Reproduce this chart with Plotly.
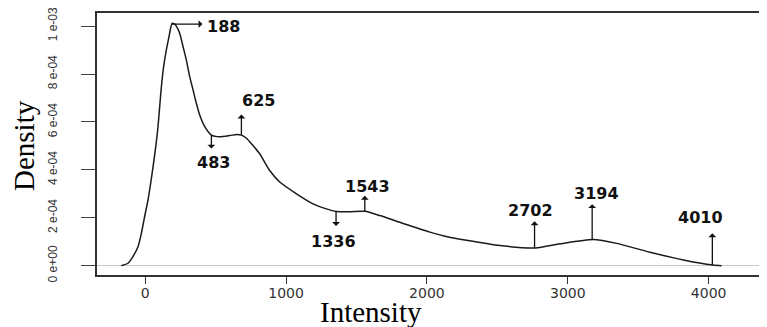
import numpy as np
import plotly.graph_objects as go

# Density curve
intensity = [-170, -122, -87, -51, -27, -4, 20, 39, 56, 75, 91, 103, 115, 131, 150, 169, 182,
             192, 205, 221, 245, 269, 292, 316, 340, 363, 387, 423, 470, 529, 600, 650, 683,
             719, 760, 813, 884, 955, 1074, 1192, 1280, 1358, 1450, 1560, 1666, 1831, 2021,
             2150, 2281, 2518, 2771, 2944, 3180, 3347, 3583, 3820, 4030, 4092]
density = [0, 1.0e-5, 3.8e-5, 7.9e-5, 1.35e-4, 2.05e-4, 2.74e-4, 3.44e-4, 4.13e-4, 4.97e-4,
           5.80e-4, 6.64e-4, 7.47e-4, 8.31e-4, 9.0e-4, 9.56e-4, 9.95e-4, 1.012e-3, 1.01e-3,
           1.0e-3, 9.7e-4, 9.14e-4, 8.59e-4, 7.89e-4, 7.33e-4, 6.78e-4, 6.29e-4, 5.8e-4,
           5.45e-4, 5.38e-4, 5.43e-4, 5.48e-4, 5.45e-4, 5.32e-4, 5.05e-4, 4.67e-4, 3.97e-4,
           3.49e-4, 3.0e-4, 2.58e-4, 2.38e-4, 2.26e-4, 2.25e-4, 2.27e-4, 2.09e-4, 1.76e-4,
           1.40e-4, 1.2e-4, 1.06e-4, 8.4e-5, 7.4e-5, 9.1e-5, 1.09e-4, 9.3e-5, 5.6e-5, 2.4e-5,
           3e-6, 0]

# Marked extrema: label text and where the arrow sits on the curve
peak_labels = ["188", "483", "625", "1336", "1543", "2702", "3194", "4010"]
peak_x = [190, 470, 683, 1355, 1559, 2764, 3173, 4026]

# Axis ticks
x_ticks = [0, 1000, 2000, 3000, 4000]
y_ticks = [0, 2e-4, 4e-4, 6e-4, 8e-4, 1e-3]
y_tick_text = ["0 e+00", "2 e-04", "4 e-04", "6 e-04", "8 e-04", "1 e-03"]

# Arrow style per label: (arrow dx px, arrow dy px, label dx px, label dy px, anchor)
arrow_style = [
    (32, 0, 33, 2, "left"),
    (0, 15, 2, 27, "center"),
    (0, -22, 17, -35, "center"),
    (0, 16, -3, 30, "center"),
    (0, -17, 3, -25, "center"),
    (0, -28, -4, -37, "center"),
    (0, -37, 4, -46, "center"),
    (0, -33, -12, -47, "center"),
]

fig = go.Figure()
fig.add_trace(go.Scatter(
    x=intensity, y=density, mode="lines",
    line=dict(color="#1a1a1a", width=1.5, shape="spline", smoothing=0.6),
    hoverinfo="skip", showlegend=False,
))

curve_y = np.interp(peak_x, intensity, density)
for lab, px, cy, (adx, ady, ldx, ldy, anc) in zip(peak_labels, peak_x, curve_y, arrow_style):
    fig.add_annotation(
        x=px, y=float(cy), xref="x", yref="y", text="",
        showarrow=True, ax=adx, ay=ady, arrowside="start",
        arrowhead=2, arrowsize=0.9, arrowwidth=1.3, arrowcolor="#111",
        standoff=0, startstandoff=0,
    )
    fig.add_annotation(
        x=px, y=float(cy), xref="x", yref="y", text="<b>%s</b>" % lab,
        showarrow=False, xanchor=anc, yanchor="middle",
        xshift=ldx, yshift=-ldy,
        font=dict(family="DejaVu Sans", size=16, color="#111"),
    )

fig.add_annotation(
    x=0.409, y=-0.141, xref="paper", yref="paper", text="Intensity",
    showarrow=False, xanchor="center", yanchor="middle",
    font=dict(family="Liberation Serif", size=29, color="#000"),
)
fig.add_annotation(
    x=-0.109, y=0.496, xref="paper", yref="paper", text="Density",
    showarrow=False, xanchor="center", yanchor="middle", textangle=-90,
    font=dict(family="Liberation Serif", size=29, color="#000"),
)

# The page body adds an 8px offset, so the figure is 8px smaller and margins shifted
fig.update_layout(
    width=759, height=319,
    margin=dict(l=89, r=0, t=5, b=52, autoexpand=False),
    paper_bgcolor="white", plot_bgcolor="white",
    xaxis=dict(
        range=[-342, 4414], tickvals=x_ticks, ticks="outside", ticklen=7,
        tickcolor="#333", tickwidth=1.2, showgrid=False, zeroline=False,
        showline=True, linecolor="#333", linewidth=1.5, mirror=True,
        tickfont=dict(family="DejaVu Sans", size=14, color="#333"),
        ticklabelstandoff=-3, automargin=False,
    ),
    yaxis=dict(
        range=[-3.9e-5, 1.0547e-3], tickvals=y_ticks, ticktext=y_tick_text,
        ticks="outside", ticklen=14, tickcolor="#444", tickwidth=1.2,
        showgrid=False, zeroline=True, zerolinecolor="#c8c8c8", zerolinewidth=1,
        showline=True, linecolor="#333", linewidth=1.5, mirror=False,
        tickangle=-90, ticklabeloverflow="allow",
        tickfont=dict(family="Liberation Sans", size=12, color="#333"),
        ticklabelstandoff=19, automargin=False,
    ),
)

fig.write_html("out.html")
